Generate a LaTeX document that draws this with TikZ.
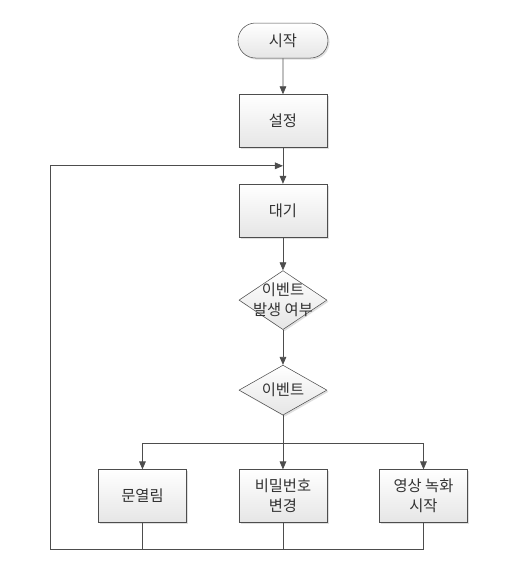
\documentclass[tikz,border=0pt]{standalone}
\usepackage{fontspec}
\setmainfont{Noto Sans CJK KR}
\usetikzlibrary{calc,positioning,arrows.meta,shapes.geometric,shapes.misc,shadows}
\definecolor{linegray}{HTML}{4D4D4D}
\definecolor{textgray}{HTML}{333333}

\begin{document}
\begin{tikzpicture}[node distance=27pt,>={Triangle[length=6pt,width=5pt]},
  every node/.style={font=\fontsize{11.5pt}{15pt}\selectfont,text=textgray},
  box/.style={rectangle,draw=linegray,top color=white,bottom color=black!10,
    drop shadow={shadow xshift=1.2pt,shadow yshift=-1.2pt,opacity=0.25},
    minimum width=66pt,minimum height=39.75pt,align=center,inner sep=0pt},
  terminal/.style={box,rounded rectangle,minimum width=67.5pt,minimum height=26.25pt},
  decision/.style={box,diamond,minimum width=66pt,minimum height=44.25pt},
  line/.style={draw=linegray,line width=0.6pt}]
  \node[terminal] (Start) {시작};
  \node[box,below=of Start] (Setup) {설정};
  \node[box,below=of Setup] (Wait) {대기};
  \node[decision,below=24.75pt of Wait,label={[align=center]center:이벤트\\발생 여부}] (Occur) {};
  \node[decision,below=26.25pt of Occur,minimum height=37.5pt,label=center:이벤트] (Event) {};
  \node[box,below=40.5pt of Event] (Password) {비밀번호\\변경};
  \node[box,left=39pt of Password] (Door) {문열림};
  \node[box,right=39pt of Password] (Record) {영상 녹화\\시작};
  %
  \coordinate (Merge) at ($(Setup.south)!0.5!(Wait.north)$);
  \coordinate (Split) at ($(Event.south)+(0,-21pt)$);
  \coordinate (Bottom) at ($(Password.south)+(0,-19.5pt)$);
  \coordinate (Back) at ($(Door.west)+(-36pt,0)$);
  %
  \draw[line,->] (Start) -- (Setup);
  \draw[line,->] (Setup) -- (Wait);
  \draw[line,->] (Wait) -- (Occur);
  \draw[line,->] (Occur) -- (Event);
  \draw[line,->] (Event) -- (Password);
  \draw[line,->] (Split) -| (Door);
  \draw[line,->] (Split) -| (Record);
  \draw[line] (Door) -- (Door |- Bottom);
  \draw[line] (Password) -- (Bottom);
  \draw[line,->] (Record) -- (Record |- Bottom) -- (Bottom -| Back) |- (Merge);
  %
  \useasboundingbox ($(Start.center)+(-212.25pt,30.4pt)$) rectangle ($(Start.center)+(173.25pt,-405.4pt)$);
\end{tikzpicture}
\end{document}
